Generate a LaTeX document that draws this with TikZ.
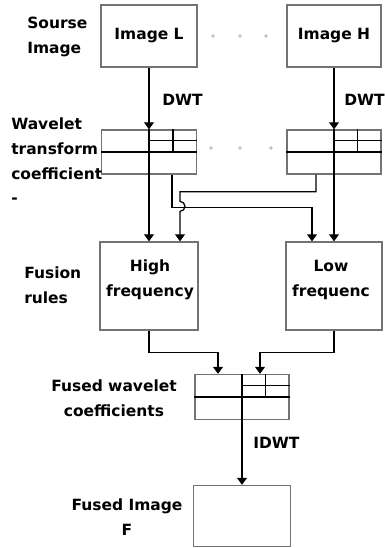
\documentclass[tikz,border=0pt]{standalone}
\usepackage{fontspec}
\setmainfont{DejaVu Sans}
\usetikzlibrary{arrows.meta, calc}

\tikzset{
  box/.style={draw=black!55, line width=0.9pt, inner sep=0pt},
  txt/.style={font=\bfseries\fontsize{11}{17.5}\selectfont, inner sep=0pt},
  arr/.style={-{Triangle[width=7pt,length=5pt]}, line width=0.9pt},
  ln/.style={line width=0.9pt},
}

% sub-band lines of a wavelet box
\newcommand{\subbands}[1]{%
  \draw[ln] (#1.west) -- (#1.east);
  \draw[ln] (#1.north) -- (#1.south);
  \draw[ln] ($(#1.north)!0.5!(#1.north east)$) -- ($(#1.center)!0.5!(#1.east)$);
  \draw[ln] ($(#1.north)!0.5!(#1.center)$) -- ($(#1.north east)!0.5!(#1.east)$);
}

\begin{document}
\begin{tikzpicture}[x=0.025cm, y=-0.025cm]
\useasboundingbox (0,0) rectangle (384,548);

% source images
\node[box, txt, minimum width=2.4cm, minimum height=1.55cm] (imgL) at (149,36) {Image L};
\node[box, txt, minimum width=2.35cm, minimum height=1.55cm] (imgH) at (334,36) {Image H};
\fill[black!25] (213,36) circle (1.4pt);
\fill[black!25] (240,36) circle (1.4pt);
\fill[black!25] (266,36) circle (1.4pt);

% wavelet coefficients
\node[box, minimum width=2.375cm, minimum height=1.1cm] (wtL) at (149,152) {};
\node[box, minimum width=2.35cm, minimum height=1.1cm] (wtR) at (334,152) {};
\subbands{wtL}
\subbands{wtR}
\fill[black!25] (211,148) circle (1.4pt);
\fill[black!25] (240,148) circle (1.4pt);
\fill[black!25] (271,148) circle (1.4pt);

% fusion rules
\node[box, minimum width=2.45cm, minimum height=2.2cm] (high) at (149,286) {};
\node[box, minimum width=2.4cm, minimum height=2.2cm] (low) at (334,286) {};
\node[txt, align=center] (hightxt) at (150,280) {High\\frequency};
\node[txt, align=center] (lowtxt) at (331,280) {Low\\frequenc};

% fused coefficients and image
\node[box, minimum width=2.35cm, minimum height=1.125cm] (fw) at (242,397) {};
\subbands{fw}
\node[box, minimum width=2.425cm, minimum height=1.525cm] (fimg) at (242,516) {};

% row labels
\node[txt, align=left, anchor=west] (src) at (27,37) {Sourse\\Image};
\node[txt, align=left, anchor=west] (wtc) at (11,161) {Wavelet\\transform\\coefficient\\-};
\node[txt, align=left, anchor=west] (fr) at (24,285) {Fusion\\rules};
\node[txt, align=center] (fwc) at (114,398) {Fused wavelet\\coefficients};
\node[txt, align=center] (fi) at (127,517) {Fused Image\\F};

% transforms
\draw[arr] (imgL.south) -- (imgL.south |- wtL.north);
\draw[arr] (imgH.south) -- (imgH.south |- wtR.north);
\node[txt, anchor=west] (dwtL) at (162,100) {DWT};
\node[txt, anchor=west] (dwtR) at (344,100) {DWT};

\draw[arr] (wtL.south) -- (high.north);
\draw[arr] (wtR.south) -- (low.north);
\draw[arr] ($(wtL.south)+(23,0)$) -- ++(0,33) -| ($(low.north)+(-22,0)$);
\draw[arr] ($(wtR.south)+(-18,0)$) -- ++(0,17) -| ($(high.north)+(31,-40)$)
  arc[start angle=-90, end angle=90, radius=5] -- ($(high.north)+(31,0)$);

\draw[arr] (high.south) -- ++(0,22) -| ($(fw.north)+(-24,0)$);
\draw[arr] (low.south) -- ++(0,22) -| ($(fw.north)+(18,0)$);

\draw[arr] (fw.south) -- (fimg.north);
\node[txt, anchor=west] (idwt) at (253,443) {IDWT};
\end{tikzpicture}
\end{document}
